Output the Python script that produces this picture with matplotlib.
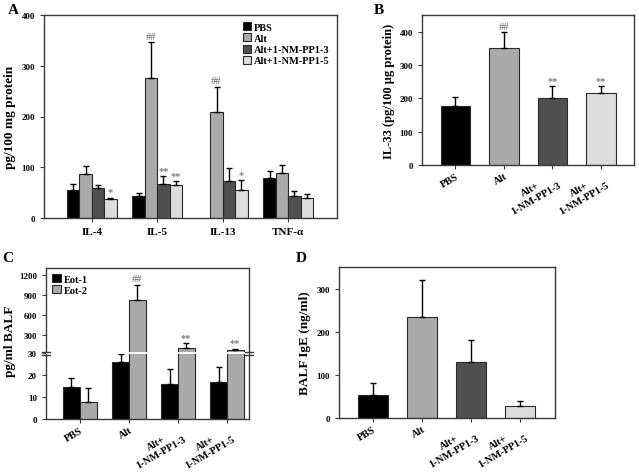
import numpy as np
import matplotlib
matplotlib.use('Agg')
import matplotlib.pyplot as plt
from matplotlib.patches import Patch

plt.rcParams['font.family'] = ['Liberation Serif', 'DejaVu Serif']
plt.rcParams['font.weight'] = 'bold'
plt.rcParams['axes.labelweight'] = 'bold'

W, H = 639, 477

# ---------------- data ----------------
a_groups = ['IL-4', 'IL-5', 'IL-13', 'TNF-α']
a_series = ['PBS', 'Alt', 'Alt+1-NM-PP1-3', 'Alt+1-NM-PP1-5']
a_vals = [[56, 43, np.nan, 79],
          [87, 276, 208, 88],
          [59, 67, 72, 43],
          [37, 66, 56, 40]]
a_tops = [[67, 50, np.nan, 92],
          [102, 346, 259, 104],
          [65, 82, 99, 53],
          [40, 73, 74, 47]]
a_marks = [(0, 3, '*'), (1, 1, '##'), (1, 2, '**'), (1, 3, '**'),
           (2, 1, '##'), (2, 3, '*')]

grp_labels = ['PBS', 'Alt', 'Alt+\n1-NM-PP1-3', 'Alt+\n1-NM-PP1-5']

b_vals = [178, 350, 202, 216]
b_tops = [205, 399, 236, 236]
b_marks = [(1, '##'), (2, '**'), (3, '**')]

c_series = ['Eot-1', 'Eot-2']
c_eot1 = [14.7, 25.7, 15.8, 17]
c_eot1_top = [18.5, 29.4, 22.7, 23.7]
c_eot2 = [7.8, 825, 100, 75]
c_eot2_top = [14.3, 1055, 175, 95]
c_marks = [(1, '##'), (2, '**'), (3, '**')]

d_vals = [53, 235, 130, 28]
d_tops = [81, 321, 181, 40]

colors = ['#000000', '#aaaaaa', '#505050', '#dcdcdc']
edge = '#2a2a2a'
spine_c = '#3a3a3a'
mark_c = '#808080'


def px(l, t, r, b):
    return [l / W, 1 - b / H, (r - l) / W, (b - t) / H]


def style(ax):
    for s in ax.spines.values():
        s.set_color(spine_c)
        s.set_linewidth(1.0)
    ax.tick_params(direction='out', length=3, width=0.8, color=spine_c)


def bars(ax, x, vals, tops, color, width):
    vals = np.array(vals, dtype=float)
    tops = np.array(tops, dtype=float)
    up = tops - vals
    ax.bar(x, vals, width, color=color, edgecolor=edge, linewidth=0.8,
           yerr=[np.zeros_like(up), up], capsize=2.5,
           error_kw=dict(elinewidth=1, ecolor='k', capthick=1), zorder=2)


def mark(ax, x, y, s, size=7.5):
    ax.annotate(s, (x, y), xytext=(0, 1), textcoords='offset points',
                ha='center', va='bottom', color=mark_c, fontsize=size)


def rot_labels(ax, size=7.5):
    ax.set_xticks(np.arange(4))
    ax.set_xticklabels(grp_labels, rotation=30, ha='right',
                       rotation_mode='anchor', multialignment='center',
                       fontsize=size)
    ax.tick_params(axis='x', pad=1.5)


fig = plt.figure(figsize=(W / 100, H / 100), dpi=100)

# ---------------- A ----------------
axA = fig.add_axes(px(44, 16, 337, 219))
w = 0.19
x = np.arange(4)
for i in range(4):
    bars(axA, x + (i - 1.5) * w, a_vals[i], a_tops[i], colors[i], w)
for g, s, t in a_marks:
    mark(axA, g + (s - 1.5) * w, a_tops[s][g], t)
axA.set_xlim(-0.73, 3.745)
axA.set_ylim(0, 400)
axA.set_yticks([0, 100, 200, 300, 400])
axA.tick_params(axis='y', labelsize=6.5)
axA.set_xticks(x)
axA.set_xticklabels(a_groups, fontsize=8)
axA.set_ylabel('pg/100 mg protein', fontsize=9.5, labelpad=4)
style(axA)
axA.legend([Patch(facecolor=c, edgecolor=edge, linewidth=0.8) for c in colors],
           a_series, loc='upper right', frameon=False, fontsize=7.5,
           handlelength=0.8, handleheight=0.8, handletextpad=0.3,
           labelspacing=0.15, borderaxespad=0.3)

# ---------------- B ----------------
axB = fig.add_axes(px(422, 16, 634, 166))
for i in range(4):
    bars(axB, i, [b_vals[i]], [b_tops[i]], colors[i], 0.6)
for g, t in b_marks:
    mark(axB, g, b_tops[g], t)
axB.set_xlim(-0.69, 3.68)
axB.set_ylim(0, 450)
axB.set_yticks([0, 100, 200, 300, 400])
axB.tick_params(axis='y', labelsize=6.5)
rot_labels(axB)
axB.set_ylabel('IL-33 (pg/100 μg protein)', fontsize=9, labelpad=3)
style(axB)

# ---------------- C (broken axis) ----------------
axCu = fig.add_axes(px(46, 269, 249, 354))
axCl = fig.add_axes(px(46, 354, 249, 420))
wc = 0.34
for ax in (axCu, axCl):
    bars(ax, x - wc / 2, c_eot1, c_eot1_top, colors[0], wc)
    bars(ax, x + wc / 2, c_eot2, c_eot2_top, colors[1], wc)
    ax.set_xlim(-0.69, 3.45)
    style(ax)
for g, t in c_marks:
    mark(axCu, g + wc / 2, c_eot2_top[g], t)
axCu.set_ylim(30, 1305)
axCu.set_yticks([300, 600, 900, 1200])
axCu.spines['bottom'].set_visible(False)
axCu.tick_params(axis='x', bottom=False, labelbottom=False)
axCu.tick_params(axis='y', labelsize=6.5)
axCl.set_ylim(0, 30)
axCl.set_yticks([0, 10, 20, 30])
axCl.spines['top'].set_visible(False)
axCl.tick_params(axis='y', labelsize=6.5)
rot_labels(axCl)
axCu.legend([Patch(facecolor=c, edgecolor=edge, linewidth=0.8) for c in colors[:2]],
            c_series, loc='upper left', frameon=False, fontsize=7.5,
            handlelength=0.8, handleheight=0.8, handletextpad=0.3,
            labelspacing=0.15, borderaxespad=0.2)
fig.text(10 / W, 1 - 341 / H, 'pg/ml BALF', rotation=90, ha='center',
         va='center', fontsize=9.5)
# white break line and break marks
axCl.plot([0.005, 0.995], [1, 1], color='white', lw=1.4,
          transform=axCl.transAxes, clip_on=False, zorder=5)
for xa in (0, 1):
    for dy in (0.02, -0.025):
        axCl.plot([xa - 0.02, xa + 0.02], [1 + dy, 1 + dy], color=spine_c,
                  lw=1, transform=axCl.transAxes, clip_on=False, zorder=6)

# ---------------- D ----------------
axD = fig.add_axes(px(339, 268, 555, 419))
for i in range(4):
    bars(axD, i, [d_vals[i]], [d_tops[i]], colors[i], 0.6)
axD.set_xlim(-0.69, 3.71)
axD.set_ylim(0, 350)
axD.set_yticks([0, 100, 200, 300])
axD.tick_params(axis='y', labelsize=6.5)
rot_labels(axD)
axD.set_ylabel('BALF IgE (ng/ml)', fontsize=9.5, labelpad=4)
style(axD)

# panel letters
for lab, (lx, ly) in zip('ABCD', [(13, 11), (379, 11), (8, 258), (301, 259)]):
    fig.text(lx / W, 1 - ly / H, lab, fontsize=11, ha='center', va='center')

fig.savefig('out.png', dpi=100)
